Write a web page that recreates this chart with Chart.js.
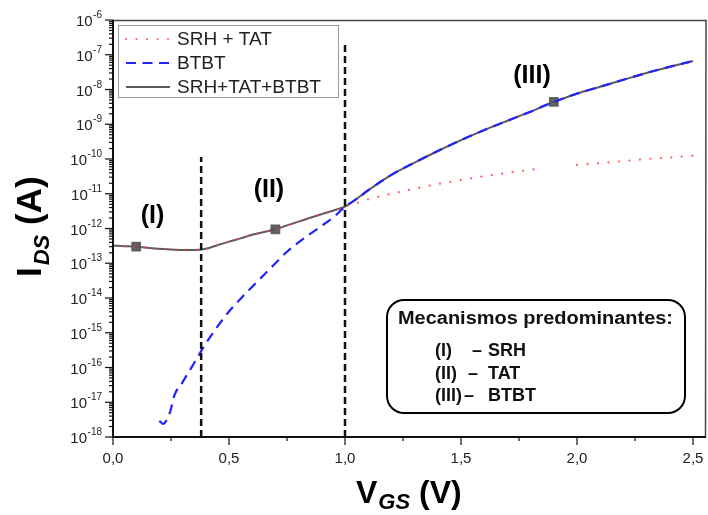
<!DOCTYPE html>
<html>
<head>
<meta charset="utf-8">
<script src="https://cdn.jsdelivr.net/npm/chart.js@4.4.1/dist/chart.umd.min.js"></script>
<style>
  html, body { margin: 0; padding: 0; background: #fff; }
  #wrap { width: 708px; height: 515px; position: relative; }
</style>
</head>
<body>
<div id="wrap"><canvas id="ivchart"></canvas></div>
<script>
// gate voltage grid used by the total and SRH+TAT curves
const vgs = [0, 0.05, 0.1, 0.15, 0.2, 0.25, 0.3, 0.35, 0.4, 0.45, 0.5, 0.55, 0.6, 0.65, 0.7, 0.75, 0.8, 0.85, 0.9, 0.95, 1.0, 1.05, 1.1,
  1.2, 1.3, 1.4, 1.5, 1.6, 1.7, 1.8, 1.85, 1.9, 1.95, 2.0, 2.1, 2.2, 2.3, 2.4, 2.5];
const idsTotal = [3.2e-13, 3.1e-13, 3.0e-13, 2.8e-13, 2.6e-13, 2.5e-13, 2.4e-13, 2.4e-13, 2.6e-13, 3.3e-13, 4.2e-13, 5.2e-13, 6.6e-13, 7.9e-13, 9.5e-13,
  1.23e-12, 1.58e-12, 2.04e-12, 2.6e-12, 3.3e-12, 4.3e-12, 7.1e-12, 1.26e-11,
  3.5e-11, 7.9e-11, 1.7e-10, 3.5e-10, 6.8e-10, 1.26e-9, 2.3e-9, 3.2e-9, 4.4e-9, 5.8e-9, 7.6e-9, 1.2e-8, 1.9e-8, 3.0e-8, 4.5e-8, 6.6e-8];
const idsSrhTat = [3.2e-13, 3.1e-13, 3.0e-13, 2.8e-13, 2.6e-13, 2.5e-13, 2.4e-13, 2.4e-13, 2.6e-13, 3.3e-13, 4.2e-13, 5.2e-13, 6.6e-13, 7.9e-13, 9.5e-13,
  1.23e-12, 1.58e-12, 2.04e-12, 2.6e-12, 3.3e-12, 4.3e-12, 5.4e-12, 6.9e-12,
  1.0e-11, 1.4e-11, 1.9e-11, 2.5e-11, 3.2e-11, 4.0e-11, 4.9e-11, 5.4e-11, null, null, 6.8e-11, 7.6e-11, 8.7e-11, 1.0e-10, 1.1e-10, 1.26e-10];

// BTBT only starts around 0.2 V
const vgsBtbt = [0.2, 0.215, 0.245, 0.265, 0.3, 0.35, 0.4, 0.45, 0.5, 0.55, 0.6, 0.65, 0.7, 0.75, 0.8, 0.85, 0.9, 0.95, 1.0, 1.05, 1.1,
  1.2, 1.3, 1.4, 1.5, 1.6, 1.7, 1.8, 1.9, 2.0, 2.1, 2.2, 2.3, 2.4, 2.5];
const idsBtbt = [2.9e-18, 2.4e-18, 5.0e-18, 1.6e-17, 3.8e-17, 1.35e-16, 4.9e-16, 1.5e-15, 4.1e-15, 9.5e-15, 2.1e-14, 4.6e-14, 1.0e-13, 2.15e-13,
  4.0e-13, 7.0e-13, 1.2e-12, 2.1e-12, 4.2e-12, 7.1e-12, 1.26e-11,
  3.5e-11, 7.9e-11, 1.7e-10, 3.5e-10, 6.8e-10, 1.26e-9, 2.3e-9, 4.4e-9, 7.6e-9, 1.2e-8, 1.9e-8, 3.0e-8, 4.5e-8, 6.6e-8];

const markerVgs = [0.1, 0.7, 1.9];

// region boundaries (dashed verticals)
const dividerVgs = [0.38, 1.0];
const dividerTop = [1.15e-10, 1.9e-7];

const yExponents = [-18, -17, -16, -15, -14, -13, -12, -11, -10, -9, -8, -7, -6];
const xTicks = [0, 0.5, 1.0, 1.5, 2.0, 2.5];
const xTickLabels = ['0,0', '0,5', '1,0', '1,5', '2,0', '2,5'];

const regionLabels = ['(I)', '(II)', '(III)'];
const regionVgs = [0.17, 0.672, 1.806];
const regionIds = [1.45e-12, 8.1e-12, 1.55e-8];

const legendNames = ['SRH + TAT', 'BTBT', 'SRH+TAT+BTBT'];
const mechRows = [['(I)', 'SRH'], ['(II)', 'TAT'], ['(III)', 'BTBT']];

const FONT = '"Liberation Sans", Arial, sans-serif';
const RED = 'rgba(255, 70, 70, 0.85)';
const BLUE = '#2323ff';
const GREY = '#5b5b5b';
const DOTS = [0.01, 10.5];
const DASHES = [10, 6.5];

const pts = (xs, ys) => xs.map((x, i) => ({ x: x, y: ys[i] }));

const dividerSets = dividerVgs.map((v, i) => ({
  data: [{ x: v, y: 1e-18 }, { x: v, y: dividerTop[i] }],
  borderColor: '#111',
  borderWidth: 2.5,
  borderDash: [7, 4],
  pointRadius: 0,
  tension: 0
}));

function roundRect(ctx, x, y, w, h, r) {
  ctx.beginPath();
  ctx.moveTo(x + r, y);
  ctx.arcTo(x + w, y, x + w, y + h, r);
  ctx.arcTo(x + w, y + h, x, y + h, r);
  ctx.arcTo(x, y + h, x, y, r);
  ctx.arcTo(x, y, x + w, y, r);
  ctx.closePath();
}

// text squeezed/stretched horizontally to a given width
function fitText(ctx, text, x, y, width) {
  const sx = width / ctx.measureText(text).width;
  ctx.save();
  ctx.translate(x, y);
  ctx.scale(sx, 1);
  ctx.fillText(text, 0, 0);
  ctx.restore();
}

const decorations = {
  id: 'decorations',
  afterDraw(chart) {
    const ctx = chart.ctx;
    const xs = chart.scales.x, ys = chart.scales.y;
    const a = chart.chartArea;
    ctx.save();

    // frame
    ctx.strokeStyle = '#444';
    ctx.lineWidth = 1.5;
    ctx.beginPath();
    ctx.moveTo(a.left, a.top + 0.5); ctx.lineTo(a.right, a.top + 0.5);
    ctx.lineTo(a.right - 0.5, a.bottom);
    ctx.stroke();
    ctx.strokeStyle = '#111';
    ctx.lineWidth = 2;
    ctx.beginPath();
    ctx.moveTo(a.left, a.top); ctx.lineTo(a.left, a.bottom); ctx.lineTo(a.right, a.bottom);
    ctx.stroke();

    // y ticks: decades plus 2..9 minors
    ctx.lineWidth = 1.2;
    ctx.strokeStyle = '#111';
    yExponents.forEach((e, k) => {
      const y = ys.getPixelForValue(Math.pow(10, e));
      ctx.beginPath(); ctx.moveTo(a.left - 8, y); ctx.lineTo(a.left, y); ctx.stroke();
      if (k < yExponents.length - 1) {
        for (let m = 2; m <= 9; m++) {
          const ym = ys.getPixelForValue(m * Math.pow(10, e));
          ctx.beginPath(); ctx.moveTo(a.left - 4, ym); ctx.lineTo(a.left, ym); ctx.stroke();
        }
      }
      // label 10^e
      ctx.fillStyle = '#222';
      ctx.textBaseline = 'alphabetic';
      ctx.textAlign = 'right';
      ctx.font = '10px ' + FONT;
      const sup = String(e);
      const sw = ctx.measureText(sup).width;
      ctx.fillText(sup, 102, y - 2);
      ctx.font = '15px ' + FONT;
      ctx.fillText('10', 102 - sw - 0.5, y + 6);
    });

    // x ticks
    xTicks.forEach((v, k) => {
      const x = xs.getPixelForValue(v);
      ctx.beginPath(); ctx.moveTo(x, a.bottom); ctx.lineTo(x, a.bottom + 8); ctx.stroke();
      const xm = xs.getPixelForValue(v + 0.25);
      if (k < xTicks.length - 1) {
        ctx.beginPath(); ctx.moveTo(xm, a.bottom); ctx.lineTo(xm, a.bottom + 4); ctx.stroke();
      }
      ctx.fillStyle = '#222';
      ctx.font = '15px ' + FONT;
      ctx.textAlign = 'center';
      ctx.fillText(xTickLabels[k], x, 463);
    });

    // axis titles
    ctx.fillStyle = '#000';
    ctx.textAlign = 'left';
    ctx.save();
    ctx.translate(41, 277);
    ctx.rotate(-Math.PI / 2);
    ctx.font = 'bold 35px ' + FONT;
    ctx.fillText('I', 0, 0);
    let w = ctx.measureText('I').width;
    ctx.font = 'bold italic 22px ' + FONT;
    ctx.fillText('DS', w + 2, 8);
    w += 2 + ctx.measureText('DS').width;
    ctx.font = 'bold 35px ' + FONT;
    ctx.fillText(' (A)', w, 0);
    ctx.restore();

    ctx.font = 'bold 32px ' + FONT;
    ctx.fillText('V', 356, 503);
    let xw = 356 + ctx.measureText('V').width;
    ctx.font = 'bold italic 22px ' + FONT;
    ctx.fillText('GS', xw + 1, 509);
    xw += 1 + ctx.measureText('GS').width;
    ctx.font = 'bold 32px ' + FONT;
    ctx.fillText(' (V)', xw, 503);

    // region labels
    ctx.font = 'bold 25px ' + FONT;
    ctx.textAlign = 'center';
    regionLabels.forEach((t, i) => {
      ctx.fillText(t, xs.getPixelForValue(regionVgs[i]), ys.getPixelForValue(regionIds[i]));
    });

    // legend
    ctx.strokeStyle = '#9a9a9a';
    ctx.lineWidth = 1;
    ctx.strokeRect(118.5, 25.5, 220, 72);
    const rowY = [39, 63, 87];
    const styles = [
      { color: RED, width: 2.2, dash: DOTS, cap: 'round' },
      { color: BLUE, width: 2.2, dash: DASHES, cap: 'butt' },
      { color: GREY, width: 2, dash: [], cap: 'butt' }
    ];
    legendNames.forEach((name, i) => {
      const s = styles[i];
      ctx.strokeStyle = s.color;
      ctx.lineWidth = s.width;
      ctx.lineCap = s.cap;
      ctx.setLineDash(s.dash);
      ctx.beginPath(); ctx.moveTo(126, rowY[i]); ctx.lineTo(170, rowY[i]); ctx.stroke();
      ctx.setLineDash([]);
      ctx.lineCap = 'butt';
      ctx.fillStyle = '#222';
      ctx.font = '19px ' + FONT;
      ctx.textAlign = 'left';
      ctx.textBaseline = 'middle';
      ctx.fillText(name, 177, rowY[i] + 1);
    });

    // mechanisms box
    ctx.textBaseline = 'alphabetic';
    ctx.strokeStyle = '#000';
    ctx.lineWidth = 2;
    roundRect(ctx, 387, 300, 298, 113, 17);
    ctx.fillStyle = '#fff';
    ctx.fill();
    ctx.stroke();
    ctx.fillStyle = '#111';
    ctx.font = 'bold 18px ' + FONT;
    fitText(ctx, 'Mecanismos predominantes:', 398, 324, 275);
    const dashX = [472, 468, 464];
    mechRows.forEach((r, i) => {
      const by = 356 + i * 22.5;
      ctx.font = 'bold 18px ' + FONT;
      ctx.fillText(r[0], 435, by);
      ctx.fillText('\u2013', dashX[i], by);
      ctx.fillText(r[1], 488, by);
    });

    ctx.restore();
  }
};

new Chart(document.getElementById('ivchart'), {
  type: 'line',
  data: {
    datasets: [
      ...dividerSets,
      {
        label: legendNames[0],
        data: pts(vgs, idsSrhTat),
        borderColor: RED,
        borderWidth: 2.2,
        borderDash: DOTS,
        borderCapStyle: 'round',
        pointRadius: 0,
        cubicInterpolationMode: 'monotone'
      },
      {
        label: legendNames[1],
        data: pts(vgsBtbt, idsBtbt),
        borderColor: BLUE,
        borderWidth: 2.2,
        borderDash: DASHES,
        pointRadius: 0,
        cubicInterpolationMode: 'monotone'
      },
      {
        label: legendNames[2],
        data: pts(vgs, idsTotal),
        borderColor: GREY,
        borderWidth: 2,
        pointStyle: 'rect',
        pointRadius: c => markerVgs.includes(vgs[c.dataIndex]) ? 5.5 : 0,
        pointBackgroundColor: 'rgba(85,85,85,0.9)',
        pointBorderColor: 'rgba(85,85,85,0.9)',
        cubicInterpolationMode: 'monotone'
      }
    ]
  },
  options: {
    responsive: true,
    maintainAspectRatio: false,
    animation: false,
    layout: { padding: { left: 113, top: 20, right: 2, bottom: 78 } },
    scales: {
      x: { type: 'linear', min: 0, max: 2.556, display: false },
      y: { type: 'logarithmic', min: 1e-18, max: 1e-6, display: false }
    },
    plugins: {
      legend: { display: false },
      tooltip: { enabled: false }
    }
  },
  plugins: [decorations]
});
</script>
</body>
</html>
